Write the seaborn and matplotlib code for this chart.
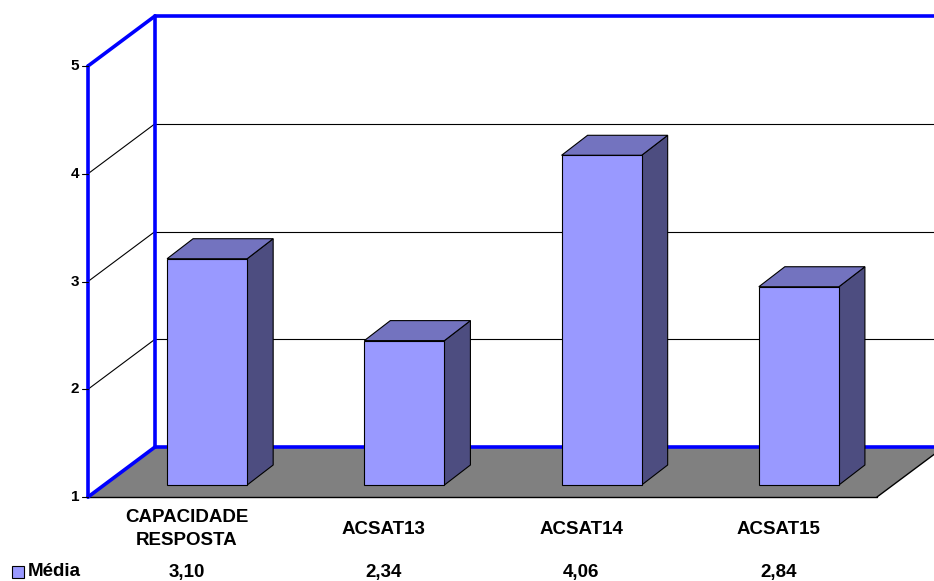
import matplotlib
matplotlib.use("Agg")
import matplotlib.pyplot as plt
import matplotlib.transforms as mtransforms
from matplotlib.patches import Polygon, Rectangle
from matplotlib.lines import Line2D
import numpy as np
import pandas as pd
import seaborn as sns

# Data
categories = ["CAPACIDADE\nRESPOSTA", "ACSAT13", "ACSAT14", "ACSAT15"]
values = [3.10, 2.34, 4.06, 2.84]
value_labels = ["3,10", "2,34", "4,06", "2,84"]
series_name = "Média"
y_ticks = [1, 2, 3, 4, 5]

FRONT_C = "#9999FF"
TOP_C = "#7373BF"
SIDE_C = "#4D4D80"
FLOOR_C = "#808080"
WALL_BLUE = "#0000FF"

W, H = 934, 581
sns.set_theme(style="white")
plt.rcParams["font.family"] = ["Liberation Sans", "DejaVu Sans"]

fig = plt.figure(figsize=(W / 100, H / 100), dpi=100)
fig.patch.set_facecolor("white")

# Axes for the plane on which the bar fronts stand
ax = fig.add_axes([108.5 / W, (H - 485) / H, 789 / W, 431 / H])
df = pd.DataFrame({"cat": categories, "val": values})
sns.barplot(data=df, x="cat", y="val", ax=ax, color=FRONT_C, width=0.406,
            edgecolor="black", linewidth=0.8, saturation=1, zorder=6)
bars = list(ax.patches)
ax.set_xlim(-0.5, 3.5)
ax.set_ylim(1, 5)
ax.axis("off")

# bars rise from the floor at 1
for p in bars:
    top = p.get_y() + p.get_height()
    p.set_y(1)
    p.set_height(top - 1)
    p.set_clip_on(False)

fig.canvas.draw()
ID = mtransforms.IdentityTransform()

FRONT = np.array([-20.5, -12.0])
BACK = np.array([46.5, 38.0])
DEPTH = np.array([26.0, 20.0])


def P(xd, yd, off=(0, 0)):
    return ax.transData.transform((xd, yd)) + np.asarray(off)


def line(p0, p1, color, lw, z):
    ax.add_line(Line2D([p0[0], p1[0]], [p0[1], p1[1]], color=color, lw=lw,
                       transform=ID, clip_on=False, zorder=z,
                       solid_capstyle="round"))


x0, x1 = -0.5, 3.5
# floor
floor = [P(x0, 1, FRONT), P(x1, 1, FRONT), P(x1, 1, BACK), P(x0, 1, BACK)]
ax.add_patch(Polygon(floor, closed=True, facecolor=FLOOR_C, edgecolor="none",
                     transform=ID, clip_on=False, zorder=1))
line(floor[0], floor[1], "black", 1.0, 2)
line(floor[1], floor[2], "black", 1.0, 2)

# grid lines on the back and side walls
for v in y_ticks[1:-1]:
    line(P(x0, v, BACK), P(x1, v, BACK), "black", 0.8, 2)
    line(P(x0, v, FRONT), P(x0, v, BACK), "black", 0.8, 2)

# wall edges
blw = 2.6
line(P(x0, 1, BACK), P(x1, 1, BACK), WALL_BLUE, blw, 3)
line(P(x0, 5, BACK), P(x1, 5, BACK), WALL_BLUE, blw, 3)
line(P(x0, 1, BACK), P(x0, 5, BACK), WALL_BLUE, blw, 3)
line(P(x0, 1, FRONT), P(x0, 5, FRONT), WALL_BLUE, blw, 3)
line(P(x0, 5, FRONT), P(x0, 5, BACK), WALL_BLUE, blw, 3)
line(P(x0, 1, FRONT), P(x0, 1, BACK), WALL_BLUE, blw, 3)

# y ticks and labels on the front edge
for v in y_ticks:
    p = P(x0, v, FRONT)
    line(p - np.array([6, 0]), p, "black", 0.8, 3)
    fig.text((p[0] - 9) / W, p[1] / H, str(v), ha="right", va="center",
             fontsize=11, fontweight="bold", color="black")

# top and side faces of each bar
for p in bars:
    bx0 = p.get_x()
    bx1 = bx0 + p.get_width()
    top = p.get_y() + p.get_height()
    a, b = P(bx0, top), P(bx1, top)
    c = P(bx1, 1)
    side = [b, c, c + DEPTH, b + DEPTH]
    cap = [a, b, b + DEPTH, a + DEPTH]
    ax.add_patch(Polygon(side, closed=True, facecolor=SIDE_C, edgecolor="black",
                         lw=0.8, transform=ID, clip_on=False, zorder=5))
    ax.add_patch(Polygon(cap, closed=True, facecolor=TOP_C, edgecolor="black",
                         lw=0.8, transform=ID, clip_on=False, zorder=5))

# category labels and the data table row
for i, (cat, lab) in enumerate(zip(categories, value_labels)):
    cx = P(i, 1, FRONT)[0]
    fig.text(cx / W, 1 - 529 / H, cat, ha="center", va="center",
             fontsize=13.5, fontweight="bold", color="black", linespacing=1.5)
    fig.text(cx / W, 1 - 572 / H, lab, ha="center", va="center",
             fontsize=13.5, fontweight="bold", color="black")

# legend key
fig.patches.append(Rectangle(
    (12 / W, 1 - 578 / H), 12 / W, 12 / H, transform=fig.transFigure,
    facecolor=FRONT_C, edgecolor="black", lw=0.8, figure=fig))
fig.text(28 / W, 1 - 572 / H, series_name, ha="left", va="center",
         fontsize=13.5, fontweight="bold", color="black")

fig.savefig("out.png", dpi=100)
